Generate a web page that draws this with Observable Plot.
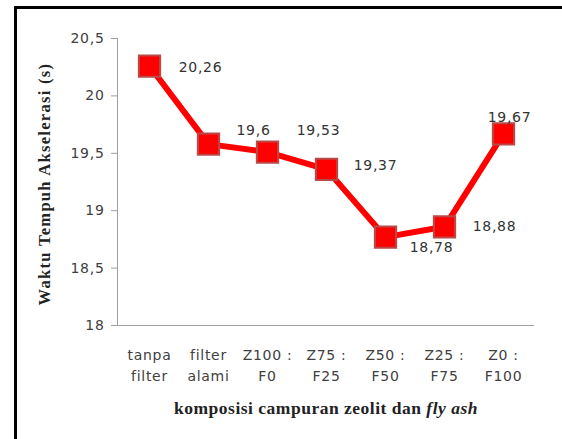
<!DOCTYPE html>
<html>
<head>
<meta charset="utf-8">
<script src="https://cdn.jsdelivr.net/npm/d3@7"></script>
<script src="https://cdn.jsdelivr.net/npm/@observablehq/plot@0.6"></script>
<style>
  html, body { margin: 0; padding: 0; background: #fff; width: 562px; height: 439px; overflow: hidden; }
  #wrap { position: relative; width: 562px; height: 439px; }
  #frame { position: absolute; left: 14px; top: 6px; width: 700px; height: 600px;
           border-left: 3px solid #000; border-top: 3px solid #000; box-sizing: border-box; }
  #chart { position: absolute; left: 0; top: 0; }
  .serif-title { font-family: "Liberation Serif", "DejaVu Serif", serif !important; }
</style>
</head>
<body>
<div id="wrap"><div id="frame"></div><div id="chart"></div></div>
<script>
const categories = ["tanpa\nfilter", "filter\nalami", "Z100 :\nF0", "Z75 :\nF25", "Z50 :\nF50", "Z25 :\nF75", "Z0 :\nF100"];
const values = [20.26, 19.58, 19.51, 19.36, 18.77, 18.86, 19.67];
const labels = ["20,26", "19,6", "19,53", "19,37", "18,78", "18,88", "19,67"];
const yTicks = [18, 18.5, 19, 19.5, 20, 20.5];
const yTitle = "Waktu Tempuh Akselerasi (s)";
const xTitleMain = "komposisi campuran zeolit dan ";
const xTitleItalic = "fly ash";

const data = categories.map((c, i) => ({cat: c, value: values[i], label: labels[i]}));

// layout: label offsets relative to each marker (as in the original)
const labelShift = [[51, 1], [45, -14], [51, -22], [49, -4], [46, 10], [50, 0], [6, -16]];

const sans = "DejaVu Sans";
const fmt = d => String(d).replace(".", ",");

const labelMarks = data.map((d, i) => Plot.text([d], {
  x: "cat", y: "value", text: "label",
  dx: labelShift[i][0], dy: labelShift[i][1],
  fontFamily: sans, fontSize: 14, fill: "#333"
}));

const chart = Plot.plot({
  width: 562,
  height: 439,
  marginLeft: 117,
  marginRight: 28,
  marginTop: 38,
  marginBottom: 114,
  style: {fontFamily: sans, fontSize: "14px", color: "#404040", background: "transparent", overflow: "visible", letterSpacing: "0.7px"},
  x: {type: "point", domain: categories, padding: 0.5, label: null},
  y: {domain: [18, 20.5], label: null},
  marks: [
    Plot.axisY({ticks: yTicks, tickFormat: fmt, tickSize: 6, tickPadding: 7, stroke: "#a0a0a0", fill: "#404040", fontSize: 14, label: null}),
    Plot.axisX({tickSize: 0, tickPadding: 20, lineHeight: 1.5, fill: "#404040", fontSize: 14, label: null}),
    Plot.frame({anchor: "left", stroke: "#a0a0a0"}),
    Plot.ruleY([18], {stroke: "#a0a0a0"}),
    Plot.line(data, {x: "cat", y: "value", stroke: "#ff0000", strokeWidth: 6}),
    Plot.dot(data, {x: "cat", y: "value", symbol: "square", r: 12, fill: "#ff0000", stroke: "#b94a48", strokeWidth: 2}),
    ...labelMarks
  ]
});
document.getElementById("chart").appendChild(chart);

const svg = d3.select(chart);
// y title
svg.append("text")
  .attr("class", "serif-title")
  .attr("transform", "translate(50,184) rotate(-90)")
  .attr("text-anchor", "middle")
  .style("font-weight", "bold").style("font-size", "16.5px").style("letter-spacing", "1.3px")
  .attr("fill", "#222")
  .text(yTitle);
// x title with italic part
const t = svg.append("text")
  .attr("class", "serif-title")
  .attr("x", 326).attr("y", 414)
  .attr("text-anchor", "middle")
  .style("font-weight", "bold").style("font-size", "17.5px").style("letter-spacing", "0.5px")
  .attr("fill", "#222");
t.append("tspan").text(xTitleMain);
t.append("tspan").style("font-style", "italic").text(xTitleItalic);
</script>
</body>
</html>
